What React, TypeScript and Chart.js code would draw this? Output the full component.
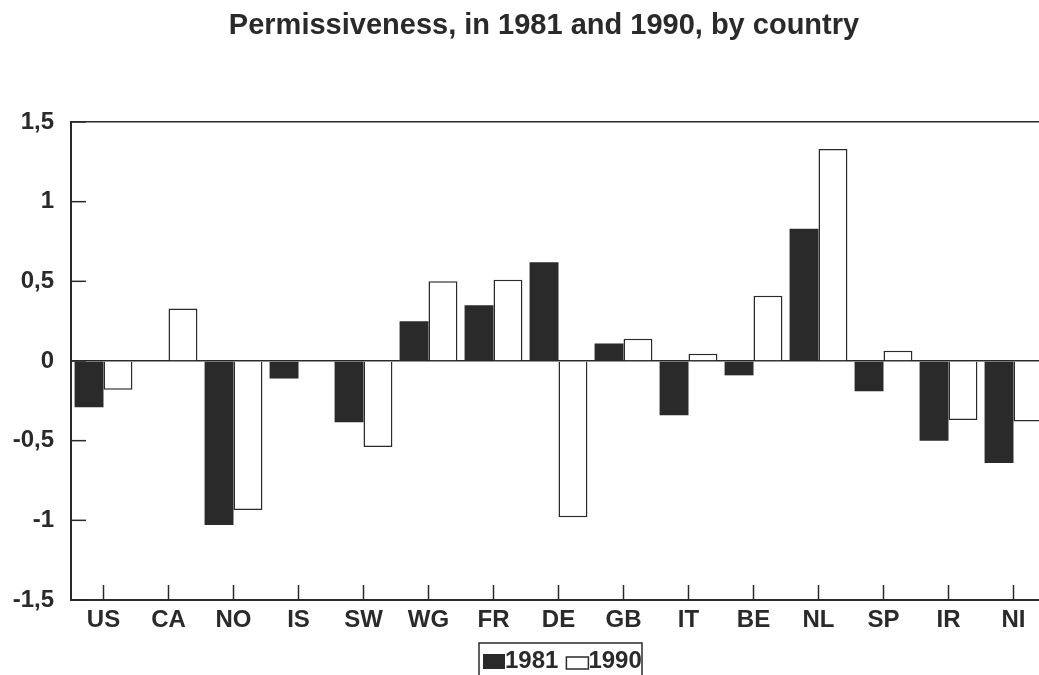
import React, { useEffect, useRef } from "react";
import { Chart, registerables } from "chart.js";

Chart.register(...registerables);

const titleText = "Permissiveness, in 1981 and 1990, by country";
const countries = ["US", "CA", "NO", "IS", "SW", "WG", "FR", "DE", "GB", "IT", "BE", "NL", "SP", "IR", "NI"];
const seriesLabels = ["1981", "1990"];
const values1981: (number | null)[] = [-0.29, null, -1.03, -0.11, -0.385, 0.25, 0.35, 0.62, 0.11, -0.34, -0.09, 0.83, -0.19, -0.5, -0.64];
const values1990: (number | null)[] = [-0.18, 0.33, -0.935, null, -0.54, 0.5, 0.51, -0.98, 0.14, 0.045, 0.41, 1.33, 0.065, -0.37, -0.38];
const yTicks = [-1.5, -1, -0.5, 0, 0.5, 1, 1.5];

const INK = "#2a2a2a";
const FONT = "'Liberation Sans', Arial, Helvetica, sans-serif";

export default function App() {
  const ref = useRef<HTMLCanvasElement>(null);

  useEffect(() => {
    const canvas = ref.current!;

    const inwardTicks = {
      id: "inwardTicks",
      afterDatasetsDraw(chart: any) {
        const { ctx, chartArea, scales } = chart;
        ctx.save();
        ctx.strokeStyle = INK;
        ctx.lineWidth = 1.5;
        const ys = scales.y;
        ys.ticks.forEach((_t: any, i: number) => {
          const py = ys.getPixelForTick(i);
          ctx.beginPath();
          ctx.moveTo(chartArea.left, py);
          ctx.lineTo(chartArea.left + 15, py);
          ctx.stroke();
        });
        const xs = scales.x;
        xs.ticks.forEach((_t: any, i: number) => {
          const px = xs.getPixelForTick(i);
          ctx.beginPath();
          ctx.moveTo(px, chartArea.bottom);
          ctx.lineTo(px, chartArea.bottom - 15);
          ctx.stroke();
        });
        ctx.restore();
      },
    };

    const titleAndLegend = {
      id: "titleAndLegend",
      afterDraw(chart: any) {
        const { ctx, chartArea } = chart;
        ctx.save();
        // title
        ctx.font = `bold 29px ${FONT}`;
        ctx.fillStyle = INK;
        ctx.textAlign = "center";
        ctx.textBaseline = "alphabetic";
        ctx.fillText(titleText, 544, 34);
        // boxed legend
        const cx = (chartArea.left + chartArea.right) / 2;
        const w = 163;
        const left = cx - w / 2 + 2;
        const top = 643;
        ctx.strokeStyle = INK;
        ctx.lineWidth = 1.5;
        ctx.strokeRect(left, top, w, 80);
        ctx.font = `bold 24px ${FONT}`;
        ctx.textBaseline = "middle";
        ctx.textAlign = "left";
        let x = left + 4;
        chart.data.datasets.forEach((ds: any, i: number) => {
          const bh = i === 0 ? 15 : 12;
          const by = 669 - bh;
          if (i === 0) {
            ctx.fillStyle = ds.backgroundColor;
            ctx.fillRect(x, by, 22, bh);
          } else {
            ctx.fillStyle = "#fff";
            ctx.fillRect(x, by, 22, bh);
            ctx.strokeRect(x, by, 22, bh);
          }
          x += 22;
          ctx.fillStyle = INK;
          ctx.fillText(ds.label, x, 661);
          x += ctx.measureText(ds.label).width + 8;
        });
        ctx.restore();
      },
    };

    const chart = new Chart(canvas, {
      type: "bar",
      data: {
        labels: countries,
        datasets: [
          { label: seriesLabels[0], data: values1981, backgroundColor: INK, borderColor: INK, borderWidth: 0 },
          { label: seriesLabels[1], data: values1990, backgroundColor: "#ffffff", borderColor: INK, borderWidth: 1.5 },
        ],
      },
      options: {
        responsive: false,
        animation: false,
        devicePixelRatio: 1,
        datasets: { bar: { categoryPercentage: 0.89, barPercentage: 1.0 } },
        layout: { padding: { left: 0, right: 42, top: 122, bottom: 0 } },
        plugins: {
          legend: { display: false },
          tooltip: { enabled: false },
          title: { display: false },
        },
        scales: {
          x: {
            grid: { display: false, drawTicks: false },
            border: { display: true, color: INK, width: 2 },
            ticks: { color: INK, font: { family: FONT, size: 24, weight: "bold" }, padding: 6, autoSkip: false, maxRotation: 0 },
            afterFit: (s: any) => { s.height = 75; },
          },
          y: {
            min: -1.5,
            max: 1.5,
            afterBuildTicks: (s: any) => { s.ticks = yTicks.map((v) => ({ value: v })); },
            ticks: {
              color: INK,
              font: { family: FONT, size: 24, weight: "bold" },
              padding: 17,
              callback: (v: any) => String(v).replace(".", ","),
            },
            grid: {
              drawTicks: false,
              lineWidth: 1.5,
              color: (c: any) => (c.tick && (c.tick.value === 0 || Math.abs(c.tick.value) === 1.5) ? INK : "rgba(0,0,0,0)"),
            },
            border: { display: true, color: INK, width: 2 },
            afterFit: (s: any) => { s.width = 71; },
          },
        },
      } as any,
      plugins: [inwardTicks, titleAndLegend],
    });

    return () => chart.destroy();
  }, []);

  return (
    <div style={{ position: "absolute", left: 0, top: 0, width: 1039, height: 675, overflow: "hidden", background: "#fff" }}>
      <canvas ref={ref} width={1088} height={675} style={{ display: "block", width: 1088, height: 675 }} />
    </div>
  );
}
